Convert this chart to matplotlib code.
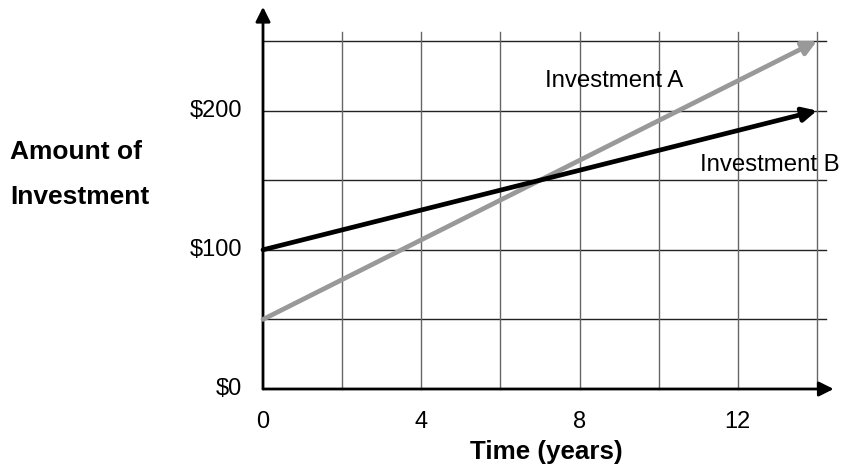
import matplotlib
matplotlib.use('Agg')
import matplotlib.pyplot as plt

plt.rcParams['font.family'] = ['Liberation Sans', 'DejaVu Sans']

# data
years = [0, 14]
inv_a = [50, 250]
inv_b = [100, 200]
x_ticks = [0, 4, 8, 12]
y_ticks = [0, 100, 200]
y_labels = ['$0', '$100', '$200']

fig = plt.figure(figsize=(8.43, 4.76), dpi=100)
ax = fig.add_axes([263/843, 87/476, 573.8/843, 382.8/476])
ax.set_xlim(0, 14.5)
ax.set_ylim(0, 275)
for s in ax.spines.values():
    s.set_visible(False)
ax.set_xticks([])
ax.set_yticks([])

# grid
for y in range(50, 251, 50):
    ax.plot([0, 14.23], [y, y], color='#222222', lw=1.0, zorder=1, clip_on=False)
for x in range(2, 15, 2):
    ax.plot([x, x], [0, 256.5], color='#666666', lw=1.0, zorder=1, clip_on=False)

# axes with arrows
ax.annotate('', xy=(0, 274.5), xytext=(0, 0),
            arrowprops=dict(arrowstyle='-|>', lw=2, color='k', mutation_scale=22,
                            shrinkA=0, shrinkB=0), annotation_clip=False)
ax.annotate('', xy=(14.42, 0), xytext=(0, 0),
            arrowprops=dict(arrowstyle='-|>', lw=2, color='k', mutation_scale=22,
                            shrinkA=0, shrinkB=0), annotation_clip=False)

# investment lines
ax.annotate('', xy=(years[1], inv_a[1]), xytext=(years[0], inv_a[0]),
            arrowprops=dict(arrowstyle='-|>', lw=3.4, color='#999999', mutation_scale=21,
                            shrinkA=0, shrinkB=0), annotation_clip=False, zorder=3)
ax.annotate('', xy=(years[1], inv_b[1]), xytext=(years[0], inv_b[0]),
            arrowprops=dict(arrowstyle='-|>', lw=3.4, color='black', mutation_scale=21,
                            shrinkA=0, shrinkB=0), annotation_clip=False, zorder=4)

# tick labels
for x in x_ticks:
    ax.text(x, -24, str(x), ha='center', va='center', fontsize=17)
for y, lab in zip(y_ticks, y_labels):
    ax.text(-0.53, y, lab, ha='right', va='center', fontsize=17)

ax.text(8.87, 221, 'Investment A', ha='center', va='center', fontsize=17.3)
ax.text(12.8, 161, 'Investment B', ha='center', va='center', fontsize=17.3)

fig.text(546/843, 1 - 452/476, 'Time (years)', ha='center', va='center',
         fontsize=18.7, fontweight='bold')
fig.text(10/843, 1 - 152/476, 'Amount of', ha='left', va='center',
         fontsize=19, fontweight='bold')
fig.text(10/843, 1 - 197/476, 'Investment', ha='left', va='center',
         fontsize=19, fontweight='bold')

fig.savefig('out.png', dpi=100)
